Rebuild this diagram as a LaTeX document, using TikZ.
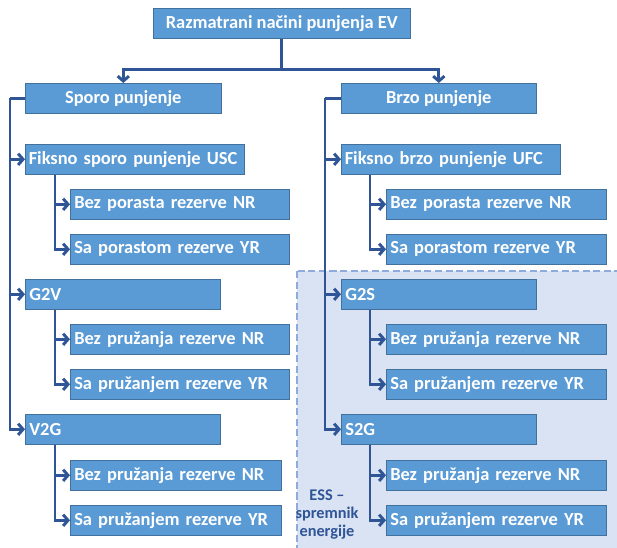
\documentclass[tikz,border=0pt]{standalone}
\usepackage{fontspec}
\setmainfont{Carlito}
\usetikzlibrary{arrows.meta}
\definecolor{boxfill}{HTML}{5B9BD5}
\definecolor{boxline}{HTML}{41719C}
\definecolor{linkcol}{HTML}{2F5597}
\definecolor{essfill}{HTML}{DAE3F3}
\definecolor{essline}{HTML}{8FAADC}
\begin{document}
\begin{tikzpicture}[x=0.025cm,y=-0.025cm,
	box/.style={draw=boxline,fill=boxfill,text=white,font=\fontsize{13.1}{15}\selectfont\bfseries,minimum height=0.75cm,inner ysep=0pt,anchor=north west},
	cbox/.style={box,minimum width=#1,inner xsep=0pt},
	lbox/.style={box,text width=#1,align=left,inner xsep=0.1cm},
	link/.style={draw=linkcol,line width=2.1pt},
	arr/.style={link,-{Straight Barb[length=3.5pt,width=8pt]}}]
	\useasboundingbox (0,0) rectangle (617,547);
	\fill[white] (0,0) rectangle (617,547);
	\begin{scope}
		\clip (0,0) rectangle (617,547);
		\draw[fill=essfill,draw=essline,dash pattern=on 5pt off 2.5pt,line width=0.8pt] (297,271) rectangle (640,570);
	\end{scope}
	\node[font=\fontsize{11.6}{12.8}\selectfont\bfseries,text=linkcol,align=center] (ess) at (327,515) {ESS –\\spremnik\\energije};

	\node[cbox=6.425cm] (top) at (153,8) {Razmatrani načini punjenja EV};
	\node[cbox=4.9cm] (sporo) at (25,83) {Sporo punjenje};
	\node[cbox=4.875cm] (brzo) at (341,83) {Brzo punjenje};

	\node[lbox=5.3cm,inner xsep=0.0875cm] (fsus) at (25,144) {Fiksno sporo punjenje USC};
	\node[lbox=5.275cm] (fsnr) at (70,189) {Bez porasta rezerve NR};
	\node[lbox=5.275cm] (fsyr) at (70,234) {Sa porastom rezerve YR};
	\node[lbox=4.675cm] (g2v) at (25,279) {G2V};
	\node[lbox=5.275cm] (g2vnr) at (70,324) {Bez pružanja rezerve NR};
	\node[lbox=5.275cm] (g2vyr) at (70,369) {Sa pružanjem rezerve YR};
	\node[lbox=4.675cm] (v2g) at (25,414) {V2G};
	\node[lbox=5.075cm] (v2gnr) at (70,460) {Bez pružanja rezerve NR};
	\node[lbox=5.075cm] (v2gyr) at (70,505) {Sa pružanjem rezerve YR};

	\node[lbox=5.3cm,inner xsep=0.0875cm] (fbuf) at (341,144) {Fiksno brzo punjenje UFC};
	\node[lbox=5.3cm] (fbnr) at (386,189) {Bez porasta rezerve NR};
	\node[lbox=5.3cm] (fbyr) at (386,234) {Sa porastom rezerve YR};
	\node[lbox=4.675cm] (g2s) at (341,279) {G2S};
	\node[lbox=5.3cm] (g2snr) at (386,324) {Bez pružanja rezerve NR};
	\node[lbox=5.3cm] (g2syr) at (386,369) {Sa pružanjem rezerve YR};
	\node[lbox=4.675cm] (s2g) at (341,414) {S2G};
	\node[lbox=5.3cm] (s2gnr) at (386,460) {Bez pružanja rezerve NR};
	\node[lbox=5.3cm] (s2gyr) at (386,505) {Sa pružanjem rezerve YR};

	\draw[link] (top.south) -- ++(0,31) coordinate (tj);
	\draw[arr] (tj) -| (sporo.north);
	\draw[arr] (tj) -| (brzo.north);

	\draw[link] (sporo.west) -- ++(-15,0) coordinate (ls);
	\draw[arr] (ls) |- (fsus.west);
	\draw[arr] (ls) |- (g2v.west);
	\draw[arr] (ls) |- (v2g.west);
	\draw[link] (brzo.west) -- ++(-16,0) coordinate (rs);
	\draw[arr] (rs) |- (fbuf.west);
	\draw[arr] (rs) |- (g2s.west);
	\draw[arr] (rs) |- (s2g.west);

	\draw[arr] ([xshift=0.75cm]fsus.south west) |- (fsnr.west);
	\draw[arr] ([xshift=0.75cm]fsus.south west) |- (fsyr.west);
	\draw[arr] ([xshift=0.75cm]g2v.south west) |- (g2vnr.west);
	\draw[arr] ([xshift=0.75cm]g2v.south west) |- (g2vyr.west);
	\draw[arr] ([xshift=0.75cm]v2g.south west) |- (v2gnr.west);
	\draw[arr] ([xshift=0.75cm]v2g.south west) |- (v2gyr.west);
	\draw[arr] ([xshift=0.725cm]fbuf.south west) |- (fbnr.west);
	\draw[arr] ([xshift=0.725cm]fbuf.south west) |- (fbyr.west);
	\draw[arr] ([xshift=0.725cm]g2s.south west) |- (g2snr.west);
	\draw[arr] ([xshift=0.725cm]g2s.south west) |- (g2syr.west);
	\draw[arr] ([xshift=0.725cm]s2g.south west) |- (s2gnr.west);
	\draw[arr] ([xshift=0.725cm]s2g.south west) |- (s2gyr.west);
\end{tikzpicture}
\end{document}
